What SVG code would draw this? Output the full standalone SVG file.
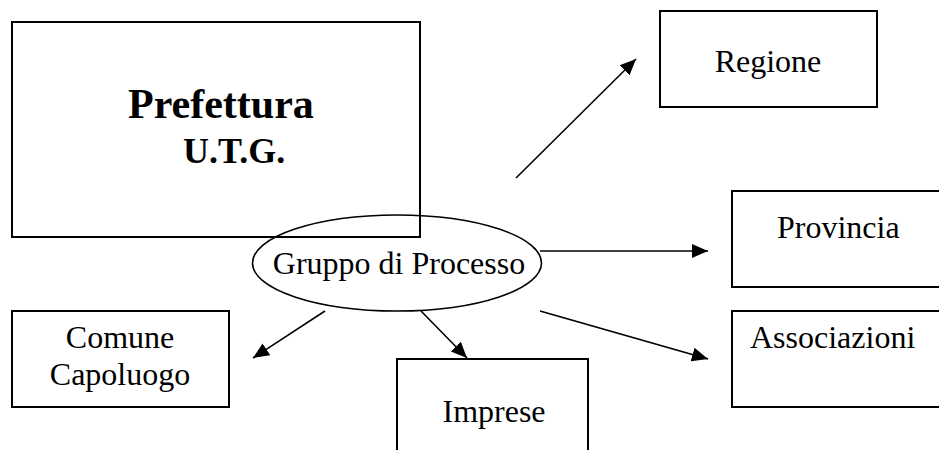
<svg xmlns="http://www.w3.org/2000/svg" width="939" height="450" viewBox="0 0 939 450">
<style>
.box{fill:none;stroke:#000;stroke-width:2}
.t{font-family:"Liberation Serif","Times New Roman",serif;font-size:32px;fill:#000}
.b{font-weight:bold}
.c{stroke:#000;stroke-width:1.6;fill:none;marker-end:url(#ah)}
</style>
<defs>
<marker id="ah" markerUnits="userSpaceOnUse" markerWidth="18" markerHeight="16" viewBox="0 0 18 16" refX="16" refY="8" orient="auto">
<path d="M0,1 L16,8 L0,15 Z" fill="#000"/>
</marker>
</defs>
<rect width="939" height="450" fill="#fff"/>
<g id="prefettura">
<rect class="box" x="12" y="22" width="408" height="215"/>
<text class="t b" x="128" y="118" style="font-size:42px">Prefettura</text>
<text class="t b" x="183" y="163" style="font-size:36px">U.T.G.</text>
</g>
<g id="gruppo">
<ellipse cx="397" cy="263" rx="144.5" ry="48" fill="none" stroke="#000" stroke-width="1.6"/>
<text class="t" x="399" y="274" text-anchor="middle">Gruppo di Processo</text>
</g>
<g id="regione">
<rect class="box" x="660" y="11" width="217" height="96"/>
<text class="t" x="768" y="72" text-anchor="middle">Regione</text>
</g>
<g id="provincia">
<rect class="box" x="732" y="191" width="220" height="96"/>
<text class="t" x="777" y="238">Provincia</text>
</g>
<g id="associazioni">
<rect class="box" x="732" y="311" width="220" height="96"/>
<text class="t" x="750" y="348">Associazioni</text>
</g>
<g id="comune">
<rect class="box" x="12" y="311" width="217" height="96"/>
<text class="t" x="120" y="348" text-anchor="middle">Comune</text>
<text class="t" x="120" y="385" text-anchor="middle">Capoluogo</text>
</g>
<g id="imprese">
<rect class="box" x="397" y="359" width="191" height="110"/>
<text class="t" x="494" y="422" text-anchor="middle">Imprese</text>
</g>
<g id="connectors">
<line class="c" x1="516" y1="178" x2="636" y2="59"/>
<line class="c" x1="540" y1="251" x2="708" y2="251"/>
<line class="c" x1="540" y1="311" x2="708" y2="359"/>
<line class="c" x1="325" y1="311" x2="253" y2="358"/>
<line class="c" x1="421" y1="311" x2="467" y2="358"/>
</g>
</svg>
